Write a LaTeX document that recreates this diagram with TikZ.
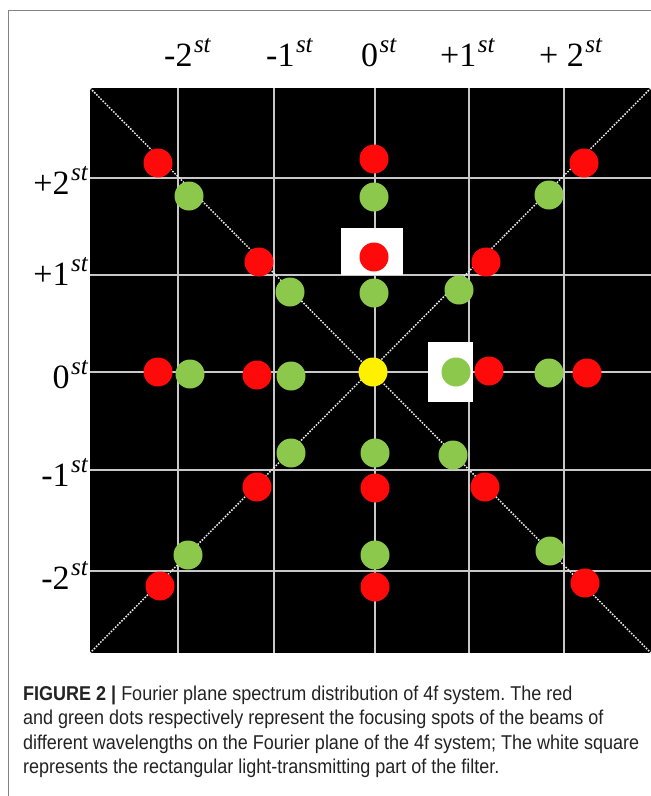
\documentclass[tikz,border=0pt]{standalone}
\usepackage{fontspec}
\setmainfont{Liberation Serif}
\newfontfamily\capfont[FakeStretch=0.9]{Liberation Sans}
\newcommand\ordl[1]{#1\kern1.5pt\raisebox{14pt}{\fontsize{25}{25}\selectfont\itshape st}}
\definecolor{spred}{RGB}{255,10,10}
\definecolor{spgreen}{RGB}{140,200,75}
\definecolor{spyellow}{RGB}{255,240,0}
\definecolor{gridgray}{RGB}{200,200,200}
\definecolor{framegray}{RGB}{130,130,130}
\definecolor{captext}{RGB}{35,35,35}
\frenchspacing
\begin{document}
\begin{tikzpicture}[x=1pt,y=-1pt,
  dot/.style={circle,minimum size=29pt,inner sep=0pt},
  rdot/.style={dot,fill=spred},
  gdot/.style={dot,fill=spgreen},
  ydot/.style={dot,fill=spyellow},
  gridline/.style={draw=gridgray,line width=1.8pt},
  diag/.style={draw=white!85!gray,line width=1.5pt,dash pattern=on 1.6pt off 1.4pt},
  toplab/.style={font=\fontsize{34}{34}\selectfont,inner sep=0pt,anchor=base west},
  leftlab/.style={font=\fontsize{34}{34}\selectfont,inner sep=0pt,anchor=base east},
  capline/.style={font=\capfont\fontsize{20}{20}\selectfont,inner sep=0pt,anchor=base west,text=captext}
]
\useasboundingbox (0,0) rectangle (651,796);
\fill[white] (0,0) rectangle (651,796);
% frame
\draw[framegray,line width=1pt] (8,796) -- (8,10) -- (651,10);
% black plane
\coordinate (tl) at (90,88);
\coordinate (tr) at (651,88);
\coordinate (bl) at (90,653);
\coordinate (br) at (651,653);
\fill[black] (tl) rectangle (br);
% grid
\foreach \n/\x in {vm2/178,vm1/274,v0/375,vp1/469,vp2/564}{
  \coordinate (\n t) at (\x,88); \coordinate (\n b) at (\x,653);
  \draw[gridline] (\n t) -- (\n b);
}
\foreach \n/\y in {hp2/178,hp1/275,h0/372,hm1/470,hm2/571}{
  \coordinate (\n l) at (90,\y); \coordinate (\n r) at (651,\y);
  \draw[gridline] (\n l) -- (\n r);
}
% diagonals
\draw[diag] (tl) -- (br);
\draw[diag] (tr) -- (bl);
% filter openings
\fill[white] (341,228) rectangle (403,275);
\fill[white] (428,342) rectangle (473,402);
% dots
\node[rdot] (r1) at (158,163) {};
\node[rdot] (r2) at (374,159) {};
\node[rdot] (r3) at (584,163) {};
\node[gdot] (g1) at (189,196) {};
\node[gdot] (g2) at (374,197) {};
\node[gdot] (g3) at (549,195) {};
\node[rdot] (r4) at (259,262) {};
\node[rdot] (r5) at (374,257) {};
\node[rdot] (r6) at (486,262) {};
\node[gdot] (g4) at (290,292) {};
\node[gdot] (g5) at (374,293) {};
\node[gdot] (g6) at (459,290) {};
\node[rdot] (r7) at (158,372) {};
\node[gdot] (g7) at (190,374) {};
\node[rdot] (r8) at (257,375) {};
\node[gdot] (g8) at (291,376) {};
\node[ydot] (y0) at (373,372) {};
\node[gdot] (g9) at (456,372) {};
\node[rdot] (r9) at (489,371) {};
\node[gdot] (g10) at (549,373) {};
\node[rdot] (r10) at (587,373) {};
\node[gdot] (g11) at (291,453) {};
\node[gdot] (g12) at (375,453) {};
\node[gdot] (g13) at (453,455) {};
\node[rdot] (r11) at (257,487) {};
\node[rdot] (r12) at (375,488) {};
\node[rdot] (r13) at (485,487) {};
\node[gdot] (g14) at (188,555) {};
\node[gdot] (g15) at (375,555) {};
\node[gdot] (g16) at (550,551) {};
\node[rdot] (r14) at (160,586) {};
\node[rdot] (r15) at (375,587) {};
\node[rdot] (r16) at (585,583) {};
% top labels
\node[toplab] (tm2) at (164,66) {\ordl{-2}};
\node[toplab] (tm1) at (266,66) {\ordl{-1}};
\node[toplab] (t0) at (361,66) {\ordl{0}};
\node[toplab] (tp1) at (440,66) {\ordl{+1}};
\node[toplab] (tp2) at (539,66) {\ordl{+ 2}};
% left labels
\node[leftlab] (lp2) at (88,194) {\ordl{+2}};
\node[leftlab] (lp1) at (88,285) {\ordl{+1}};
\node[leftlab] (l0) at (88,388) {\ordl{0}};
\node[leftlab] (lm1) at (88,486) {\ordl{-1}};
\node[leftlab] (lm2) at (88,589) {\ordl{-2}};
% caption
\node[capline] (c1) at (23,700) {\textbf{FIGURE 2 |} Fourier plane spectrum distribution of 4f system. The red};
\node[capline] (c2) at (23,724.5) {and green dots respectively represent the focusing spots of the beams of};
\node[capline] (c3) at (23,749) {different wavelengths on the Fourier plane of the 4f system; The white square};
\node[capline] (c4) at (23,773.5) {represents the rectangular light-transmitting part of the filter.};
\end{tikzpicture}
\end{document}
